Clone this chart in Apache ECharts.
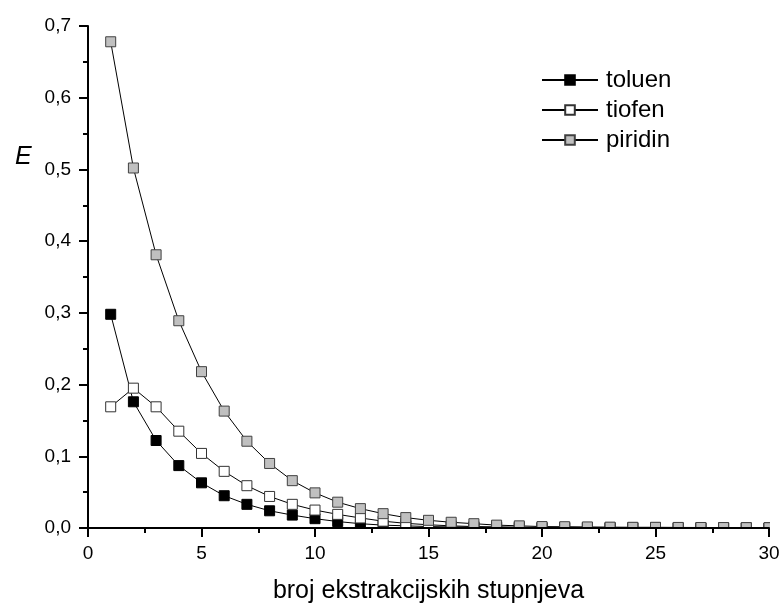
<!DOCTYPE html>
<html>
<head>
<meta charset="utf-8">
<script src="https://cdn.jsdelivr.net/npm/echarts@6/dist/echarts.min.js"></script>
<style>
html,body{margin:0;padding:0;background:#fff;}
#chart{width:782px;height:603px;}
</style>
</head>
<body>
<div id="chart"></div>
<script>
const stages = [1,2,3,4,5,6,7,8,9,10,11,12,13,14,15,16,17,18,19,20,21,22,23,24,25,26,27,28,29,30];
const toluen = [0.298,0.176,0.122,0.087,0.063,0.045,0.033,0.024,0.018,0.013,0.009,0.006,0.004,0.003,0.002,0.0015,0.0012,0.001,0.0008,0.0006,0.0005,0.0004,0.0003,0.0003,0.0002,0.0002,0.0002,0.0001,0.0001,0.0001];
const tiofen = [0.169,0.195,0.169,0.135,0.104,0.079,0.059,0.044,0.033,0.025,0.019,0.014,0.0095,0.0065,0.0045,0.003,0.002,0.0015,0.001,0.0008,0.0006,0.0005,0.0004,0.0003,0.0003,0.0002,0.0002,0.0002,0.0001,0.0001];
const piridin = [0.678,0.502,0.381,0.289,0.218,0.163,0.121,0.090,0.066,0.049,0.036,0.027,0.020,0.0145,0.0107,0.008,0.006,0.004,0.003,0.002,0.0018,0.0015,0.0012,0.001,0.001,0.0008,0.0007,0.0006,0.0005,0.0004];
const seriesNames = ['toluen','tiofen','piridin'];
const xTitle = 'broj ekstrakcijskih stupnjeva';
const yTitle = 'E';

const FONT = '"Liberation Sans", Arial, sans-serif';
const pairs = arr => stages.map((x,i) => [x, arr[i]]);
const styles = [
  {color:'#000000', borderColor:'#000000'},
  {color:'#ffffff', borderColor:'#333333'},
  {color:'#c0c0c0', borderColor:'#404040'}
];
const dataSets = [toluen, tiofen, piridin];

const chart = echarts.init(document.getElementById('chart'), null, {renderer:'canvas'});
chart.setOption({
  animation: false,
  backgroundColor: '#ffffff',
  grid: {left: 88, right: 13, top: 26, bottom: 75, containLabel: false, outerBoundsMode: 'none'},
  xAxis: {
    type: 'value', min: 0, max: 30, interval: 5, z: 10,
    name: xTitle, nameLocation: 'middle', nameGap: 51,
    nameTextStyle: {fontSize: 25, color: '#000', fontFamily: FONT},
    axisLine: {show: true, onZero: false, lineStyle: {color: '#000', width: 2}},
    axisTick: {show: true, inside: false, length: 9, lineStyle: {color: '#000', width: 2}},
    minorTick: {show: true, splitNumber: 2, length: 5, lineStyle: {color: '#000', width: 2}},
    axisLabel: {fontSize: 19, color: '#000', fontFamily: FONT, margin: 16},
    splitLine: {show: false}
  },
  yAxis: {
    type: 'value', min: 0, max: 0.7, interval: 0.1, z: 10,
    axisLine: {show: true, lineStyle: {color: '#000', width: 2}},
    axisTick: {show: true, inside: false, length: 9, lineStyle: {color: '#000', width: 2}},
    minorTick: {show: true, splitNumber: 2, length: 5, lineStyle: {color: '#000', width: 2}},
    axisLabel: {fontSize: 19, color: '#000', fontFamily: FONT, margin: 17,
      formatter: v => v.toFixed(1).replace('.', ',')},
    splitLine: {show: false}
  },
  legend: {
    orient: 'vertical', left: 536, top: 63,
    itemWidth: 56, itemHeight: 12, itemGap: 6,
    textStyle: {fontSize: 24, color: '#000', fontFamily: FONT, padding: [0,0,0,3]},
    data: seriesNames
  },
  graphic: [
    {type: 'text', x: 15, y: 157, z: 20,
      style: {text: yTitle, font: 'italic 25px "Liberation Sans", Arial, sans-serif', fill: '#000', verticalAlign: 'middle'}},
    {type: 'rect', z: 5, shape: {x: 89, y: 529, width: 693, height: 12}, style: {fill: '#fff'}},
    {type: 'rect', z: 5, shape: {x: 770, y: 480, width: 12, height: 50}, style: {fill: '#fff'}}
  ],
  series: dataSets.map((arr, i) => ({
    name: seriesNames[i],
    type: 'line',
    data: pairs(arr),
    symbol: 'rect',
    symbolSize: 10,
    showAllSymbol: true,
    clip: true,
    lineStyle: {color: '#000', width: 1},
    itemStyle: {color: styles[i].color, borderColor: styles[i].borderColor, borderWidth: 1},
    emphasis: {disabled: true}
  }))
});
</script>
</body>
</html>
